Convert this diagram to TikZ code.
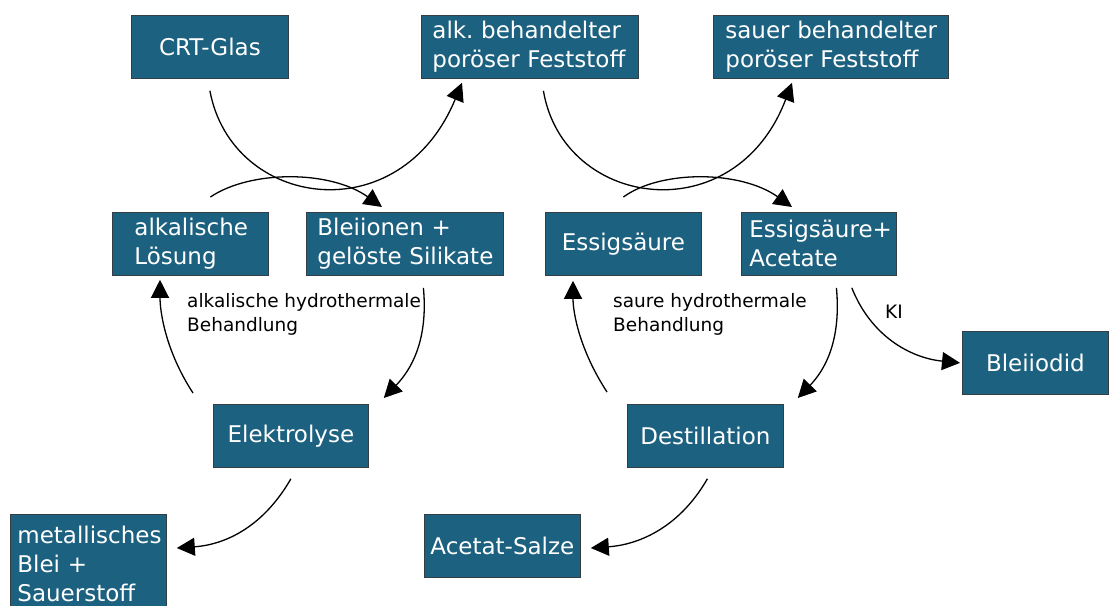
\documentclass[tikz,border=0pt]{standalone}
\usepackage{fontspec}
\setmainfont{DejaVu Sans}
\usetikzlibrary{arrows.meta,calc}
\definecolor{boxblue}{HTML}{1D6180}
\definecolor{boxline}{HTML}{333F45}
\newcommand\myboxfont{\fontsize{23}{29}\selectfont\frenchspacing}
\newcommand\nb[1]{\mbox{#1}}
\begin{document}
\begin{tikzpicture}[x=1pt,y=-1pt,
 box/.style={draw=boxline, line width=0.8pt, fill=boxblue, text=white, font=\myboxfont, minimum height=63pt, inner ysep=0pt, anchor=north west},
 cbox/.style={box, align=center, inner xsep=0pt},
 lbox/.style={box, align=left},
 conn/.style={line width=1.3pt, -{Triangle[length=18pt,width=18pt]}},
 lbl/.style={font=\fontsize{18.5}{24}\selectfont, align=left, inner sep=0pt}
]
\useasboundingbox (0,0) rectangle (1110,605);
\clip (0,0) rectangle (1110,605);

\node[cbox, minimum width=157pt] (crt) at (131,15) {CRT-Glas};
\node[lbox, text width=195pt, inner xsep=11pt] (alk) at (421,15) {\nb{alk. behandelter}\\\nb{poröser Feststoff}};
\node[lbox, text width=211pt, inner xsep=12pt] (sauer) at (713,15) {\nb{sauer behandelter}\\\nb{poröser Feststoff}};
\node[lbox, text width=112pt, inner xsep=22pt] (lsg) at (112,212) {\nb{alkalische}\\\nb{Lösung}};
\node[lbox, text width=175pt, inner xsep=11pt] (blei) at (306,212) {\nb{Bleiionen +}\\\nb{gelöste Silikate}};
\node[cbox, minimum width=156pt] (essig) at (545,212) {Essigsäure};
\node[lbox, text width=139pt, inner xsep=8pt] (essac) at (741,212) {\nb{Essigsäure+}\\\nb{Acetate}};
\node[cbox, minimum width=155pt] (elek) at (213,404) {Elektrolyse};
\node[cbox, minimum width=156pt] (dest) at (627,404) {Destillation};
\node[cbox, minimum width=146pt] (bjod) at (962,331) {Bleiiodid};
\node[lbox, text width=142pt, inner xsep=7pt, minimum height=100pt] (metall) at (10,514) {\nb{metallisches}\\\nb{Blei +}\\\nb{Sauerstoff}};
\node[cbox, minimum width=156pt] (acetat) at (424,514) {Acetat-Salze};

% upper crossings, left
\draw[conn] ([yshift=-12pt]crt.south) .. controls +(22,118) and +(-62,150) .. ([xshift=41pt,yshift=-4pt]alk.south west);
\draw[conn] ([xshift=20pt,yshift=15pt]lsg.north) .. controls +(40,-27) and +(-52,-37) .. ([xshift=76pt,yshift=5pt]blei.north west);
% upper crossings, right
\draw[conn] ([xshift=13.5pt,yshift=-12pt]alk.south) .. controls +(20,118) and +(-57,150) .. ([xshift=79pt,yshift=-4pt]sauer.south west);
\draw[conn] ([yshift=15pt]essig.north) .. controls +(37,-27) and +(-52,-37) .. ([xshift=51pt,yshift=5pt]essac.north west);
% left cycle
\draw[conn] ([xshift=18.5pt,yshift=-12pt]blei.south) .. controls +(5,53) and +(27,-28) .. ([xshift=15pt,yshift=6pt]elek.north east);
\draw[conn] ([xshift=-20pt,yshift=11pt]elek.north west) .. controls +(-28,-43) and +(0,31) .. ([xshift=48pt,yshift=-4pt]lsg.south west);
% right cycle
\draw[conn] ([xshift=17.5pt,yshift=-12pt]essac.south) .. controls +(5,53) and +(27,-28) .. ([xshift=14pt,yshift=6pt]dest.north east);
\draw[conn] ([xshift=-20pt,yshift=12pt]dest.north west) .. controls +(-28,-43) and +(0,31) .. ([xshift=28pt,yshift=-5pt]essig.south west);
\draw[conn] ([xshift=-45pt,yshift=-12pt]essac.south east) .. controls +(19,48) and +(-50,-5) .. ([xshift=-2pt]bjod.west);
% lower
\draw[conn] ([yshift=-11pt]elek.south) .. controls +(-30,52) and +(44,-3) .. ([xshift=10pt,yshift=-34pt]metall.north east);
\draw[conn] ([xshift=2pt,yshift=-11pt]dest.south) .. controls +(-30,52) and +(44,-3) .. ([xshift=10pt,yshift=-34pt]acetat.north east);

\node[lbl, anchor=north west] (lblA) at (187,293) {alkalische hydrothermale\\Behandlung};
\node[lbl, anchor=north west] (lblS) at (613,293) {saure hydrothermale\\Behandlung};
\node[lbl] (ki) at (894,312) {KI};
\end{tikzpicture}
\end{document}
